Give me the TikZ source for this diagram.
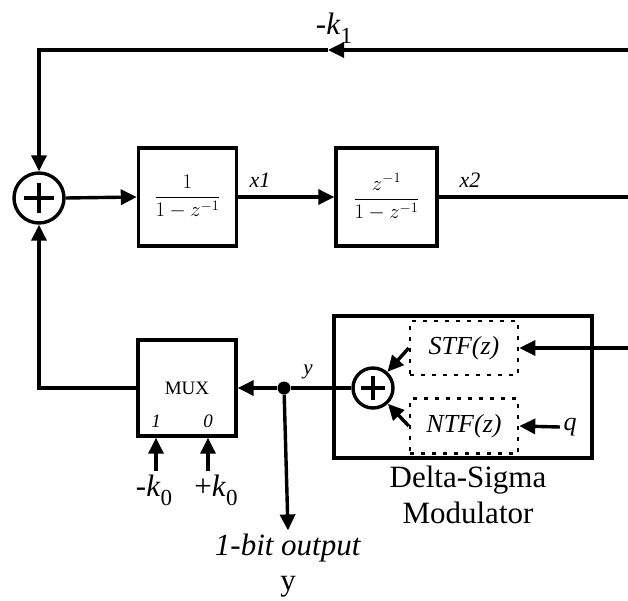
\documentclass[tikz,border=0pt]{standalone}
\usepackage{amsmath}
\usepackage{fontspec}
\setmainfont{Liberation Serif}
\usetikzlibrary{arrows.meta}

\newcommand{\bigtxt}{\fontsize{31}{36}\selectfont}
\newcommand{\midtxt}{\fontsize{26}{30}\selectfont}
\newcommand{\smltxt}{\fontsize{21}{24}\selectfont}
\newcommand{\lowidx}[1]{\raisebox{-0.3em}{\fontsize{23}{23}\selectfont #1}}

\tikzset{
  wire/.style={line width=3.4pt},
  sig/.style={line width=3.4pt, -{Triangle[length=16pt,width=15pt]}},
  blk/.style={draw, line width=3.4pt, minimum width=98pt, minimum height=98pt, inner sep=0pt},
  dotblk/.style={draw, line width=2.6pt, dash pattern=on 4pt off 7pt, minimum width=108pt, minimum height=54pt, inner sep=0pt},
  sumnode/.style={draw, circle, line width=3.4pt, inner sep=0pt, minimum size=#1,
    path picture={\draw[line width=4pt] (path picture bounding box.center) +(-0.3*#1,0) -- +(0.3*#1,0)
      (path picture bounding box.center) +(0,-0.3*#1) -- +(0,0.3*#1);}},
}

\begin{document}
\begin{tikzpicture}[x=1pt,y=-1pt]
  \useasboundingbox (0,0) rectangle (628,600);
  % loop filter
  \node[sumnode=50pt] (sum) at (39,198) {};
  \node[blk] (intg1) at (187.5,197) {\smltxt $\dfrac{1}{1-z^{-1}}$};
  \node[blk, minimum width=101pt] (intg2) at (386.5,197) {\smltxt $\dfrac{z^{-1}}{1-z^{-1}}$};
  \node (x1lbl) at (260,180) {\fontsize{22}{24}\selectfont\textit{x1}};
  \node (x2lbl) at (470,180) {\fontsize{22}{24}\selectfont\textit{x2}};
  \node (k1lbl) at (334,28) {\bigtxt -\textit{k}\lowidx{1}};
  \coordinate (topR) at (628,50);
  \coordinate (topmid) at (328,50);
  \coordinate (topL) at (39,50);
  \coordinate (x2out) at (628,197);
  \draw[sig] (sum.east) -- (intg1.west);
  \draw[sig] (intg1.east) -- (intg2.west);
  \draw[wire] (intg2.east) -- (x2out);
  \draw[sig] (topR) -- (topmid);
  \draw[sig] (topmid) -- (topL) -- (sum.north);
  % feedback mux
  \node[blk, minimum height=96pt] (mux) at (187,388) {\fontsize{19}{20}\selectfont MUX};
  \node (sel1) at (156,421) {\fontsize{19}{20}\selectfont\textit{1}};
  \node (sel0) at (208,421) {\fontsize{19}{20}\selectfont\textit{0}};
  \node (kneg) at (154,490) {\bigtxt -\textit{k}\lowidx{0}};
  \node (kpos) at (216,490) {\bigtxt +\textit{k}\lowidx{0}};
  \draw[sig] (kneg.north -| sel1) -- (sel1 |- mux.south);
  \draw[sig] (kpos.north -| sel0) -- (sel0 |- mux.south);
  \draw[sig] (mux.west) -- (sum |- mux.west) -- (sum.south);
  % delta-sigma modulator
  \node[blk, minimum width=258pt, minimum height=142pt] (dsm) at (463,387) {};
  \node[sumnode=40pt] (dsum) at (373,388) {};
  \node[dotblk] (stf) at (464,348) {\midtxt\textit{STF(z)}};
  \node[dotblk, minimum height=55pt] (ntf) at (464,426) {\midtxt\textit{NTF(z)}};
  \node (qlbl) at (570,427) {\midtxt\textit{q}};
  \node[font=\bigtxt, align=center] (dsmlbl) at (468,495) {Delta-Sigma\\Modulator};
  \coordinate (stfin) at (628,348);
  \draw[sig] (stfin) -- (stf.east);
  \draw[sig] (qlbl.west) -- (ntf.east);
  \draw[sig] (stf.west) -- (dsum);
  \draw[sig] (ntf.west) -- (dsum);
  % output
  \node[circle, fill, inner sep=0pt, minimum size=13pt] (tap) at (284,388) {};
  \node (ylbl) at (308,372) {\smltxt\textit{y}};
  \node (outlbl) at (288,548) {\bigtxt\textit{1-bit output}};
  \node (outy) at (288,587) {\bigtxt y};
  \draw[wire] (dsum.west) -- (tap);
  \draw[sig] (tap) -- (mux.east);
  \draw[sig] (tap) -- (outlbl.north);
\end{tikzpicture}
\end{document}
